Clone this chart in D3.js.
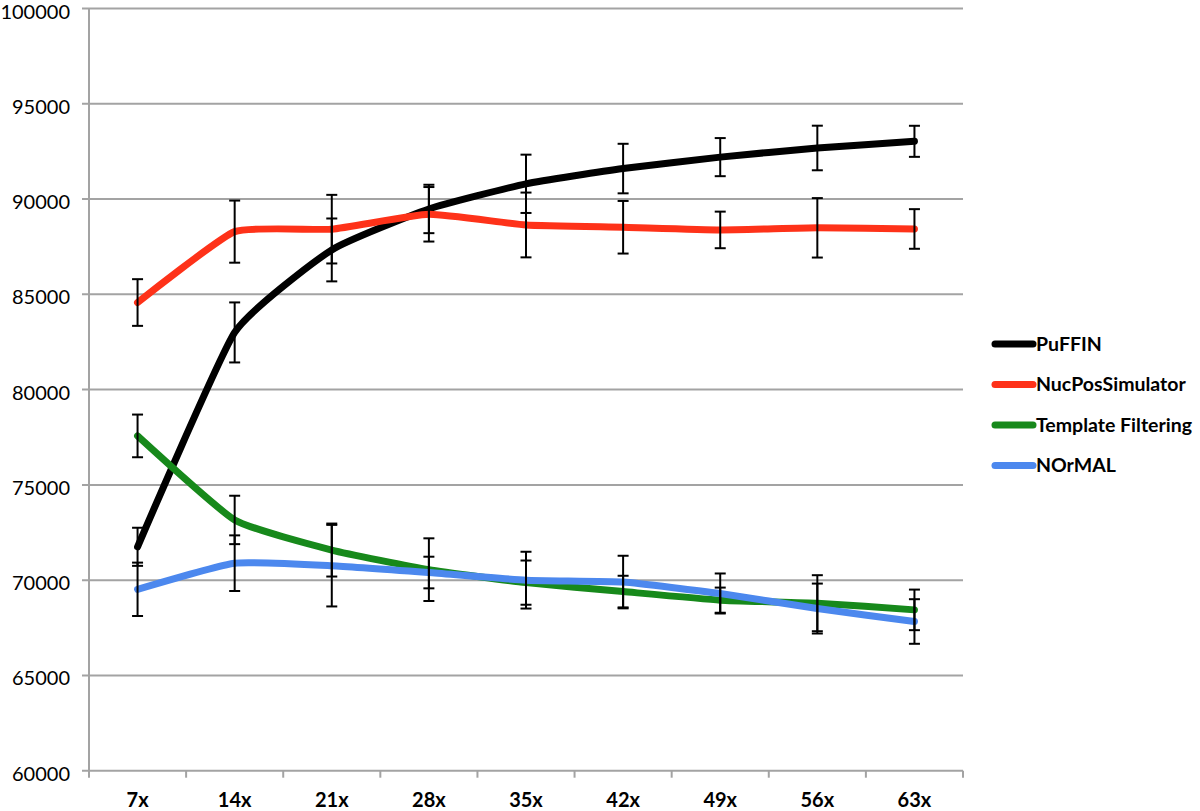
<!DOCTYPE html>
<html>
<head>
<meta charset="utf-8">
<script src="https://cdn.jsdelivr.net/npm/d3@7"></script>
<style>
  body { margin: 0; background: #fff; }
  svg { font-family: Lato, 'Open Sans', sans-serif; }
</style>
</head>
<body>
<div id="chart"></div>
<script>
// coverage levels on the x axis
const coverage = ['7x', '14x', '21x', '28x', '35x', '42x', '49x', '56x', '63x'];
const yTicks = [60000, 65000, 70000, 75000, 80000, 85000, 90000, 95000, 100000];

const seriesNames = ['PuFFIN', 'NucPosSimulator', 'Template Filtering', 'NOrMAL'];
const seriesColors = ['#000000', '#fe3219', '#17891b', '#4c88ee'];

// values
const puffin = [71750, 83000, 87330, 89480, 90800, 91600, 92200, 92680, 93030];
const puffinErr = [1000, 1575, 1650, 1270, 1530, 1300, 1000, 1170, 815];

const nucPos = [84570, 88290, 88420, 89200, 88640, 88520, 88380, 88490, 88430];
const nucPosErr = [1225, 1630, 1800, 1430, 1700, 1380, 960, 1560, 1040];

const template = [77570, 73160, 71580, 70550, 69870, 69400, 68950, 68790, 68440];
const templateErr = [1120, 1270, 1390, 1645, 1160, 830, 660, 1470, 1065];

const normal = [69520, 70890, 70760, 70400, 70000, 69900, 69300, 68510, 67830];
const normalErr = [1400, 1460, 2140, 830, 1490, 1380, 1050, 1310, 1170];

const values = [puffin, nucPos, template, normal];
const errors = [puffinErr, nucPosErr, templateErr, normalErr];

function createChart() {
  const width = 1200;
  const height = 811;

  const svg = d3.select('#chart')
    .append('svg')
    .attr('width', width)
    .attr('height', height);

  const plot = { left: 89, right: 963, top: 8.5, bottom: 770.7 };

  const x = d3.scaleBand()
    .domain(coverage)
    .range([plot.left, plot.right]);

  const y = d3.scaleLinear()
    .domain([60000, 100000])
    .range([plot.bottom, plot.top]);

  const cx = (d) => x(d) + x.bandwidth() / 2;

  // horizontal gridlines
  svg.append('g')
    .selectAll('line')
    .data(yTicks)
    .join('line')
    .attr('x1', plot.left - 7)
    .attr('x2', plot.right)
    .attr('y1', (d) => y(d))
    .attr('y2', (d) => y(d))
    .attr('stroke', '#a3a3a3')
    .attr('stroke-width', 2);

  // y axis line
  svg.append('line')
    .attr('x1', plot.left).attr('x2', plot.left)
    .attr('y1', plot.top).attr('y2', plot.bottom)
    .attr('stroke', '#a3a3a3')
    .attr('stroke-width', 2);

  // y tick labels (sit a little below their gridline, as in the original)
  svg.append('g')
    .selectAll('text')
    .data(yTicks)
    .join('text')
    .attr('x', 70)
    .attr('y', (d) => y(d) + 3)
    .attr('dy', '0.35em')
    .attr('text-anchor', 'end')
    .attr('font-size', 20)
    .attr('fill', '#000')
    .text((d) => d);

  // x ticks at the band edges
  const edges = coverage.map((d) => x(d)).concat([plot.right]);
  svg.append('g')
    .selectAll('line')
    .data(edges)
    .join('line')
    .attr('x1', (d) => d).attr('x2', (d) => d)
    .attr('y1', plot.bottom).attr('y2', plot.bottom + 7)
    .attr('stroke', '#a3a3a3')
    .attr('stroke-width', 2);

  // x tick labels
  svg.append('g')
    .selectAll('text')
    .data(coverage)
    .join('text')
    .attr('x', (d) => cx(d))
    .attr('y', 807)
    .attr('text-anchor', 'middle')
    .attr('font-size', 20)
    .attr('font-weight', 'bold')
    .attr('fill', '#000')
    .text((d) => d);

  // lightly smoothed lines, like the original spreadsheet chart
  const line = d3.line()
    .x((d, i) => cx(coverage[i]))
    .y((d) => y(d))
    .curve(d3.curveCardinal.tension(0.55));

  svg.append('g')
    .selectAll('path')
    .data(values)
    .join('path')
    .attr('d', (d) => line(d))
    .attr('fill', 'none')
    .attr('stroke', (d, i) => seriesColors[i])
    .attr('stroke-width', 7)
    .attr('stroke-linecap', 'round')
    .attr('stroke-linejoin', 'round');

  // error bars on top of the lines
  const bars = [];
  values.forEach((vals, s) => {
    vals.forEach((v, i) => bars.push({ cat: coverage[i], v, e: errors[s][i] }));
  });

  const eb = svg.append('g').attr('stroke', '#000').attr('stroke-width', 2);
  eb.selectAll('line.stem')
    .data(bars)
    .join('line')
    .attr('class', 'stem')
    .attr('x1', (d) => cx(d.cat)).attr('x2', (d) => cx(d.cat))
    .attr('y1', (d) => y(d.v + d.e)).attr('y2', (d) => y(d.v - d.e));
  eb.selectAll('line.capTop')
    .data(bars)
    .join('line')
    .attr('class', 'capTop')
    .attr('x1', (d) => cx(d.cat) - 5.5).attr('x2', (d) => cx(d.cat) + 5.5)
    .attr('y1', (d) => y(d.v + d.e)).attr('y2', (d) => y(d.v + d.e));
  eb.selectAll('line.capBottom')
    .data(bars)
    .join('line')
    .attr('class', 'capBottom')
    .attr('x1', (d) => cx(d.cat) - 5.5).attr('x2', (d) => cx(d.cat) + 5.5)
    .attr('y1', (d) => y(d.v - d.e)).attr('y2', (d) => y(d.v - d.e));

  // legend
  const legend = svg.append('g')
    .selectAll('g')
    .data(seriesNames)
    .join('g')
    .attr('transform', (d, i) => `translate(995, ${344 + i * 40.5})`);

  legend.append('line')
    .attr('x1', 0).attr('x2', 38)
    .attr('stroke', (d, i) => seriesColors[i])
    .attr('stroke-width', 7)
    .attr('stroke-linecap', 'round');

  legend.append('text')
    .attr('x', 41)
    .attr('dy', '0.35em')
    .attr('font-size', 19.5)
    .attr('font-weight', 'bold')
    .attr('fill', '#000')
    .text((d) => d);
}

createChart();
</script>
</body>
</html>
